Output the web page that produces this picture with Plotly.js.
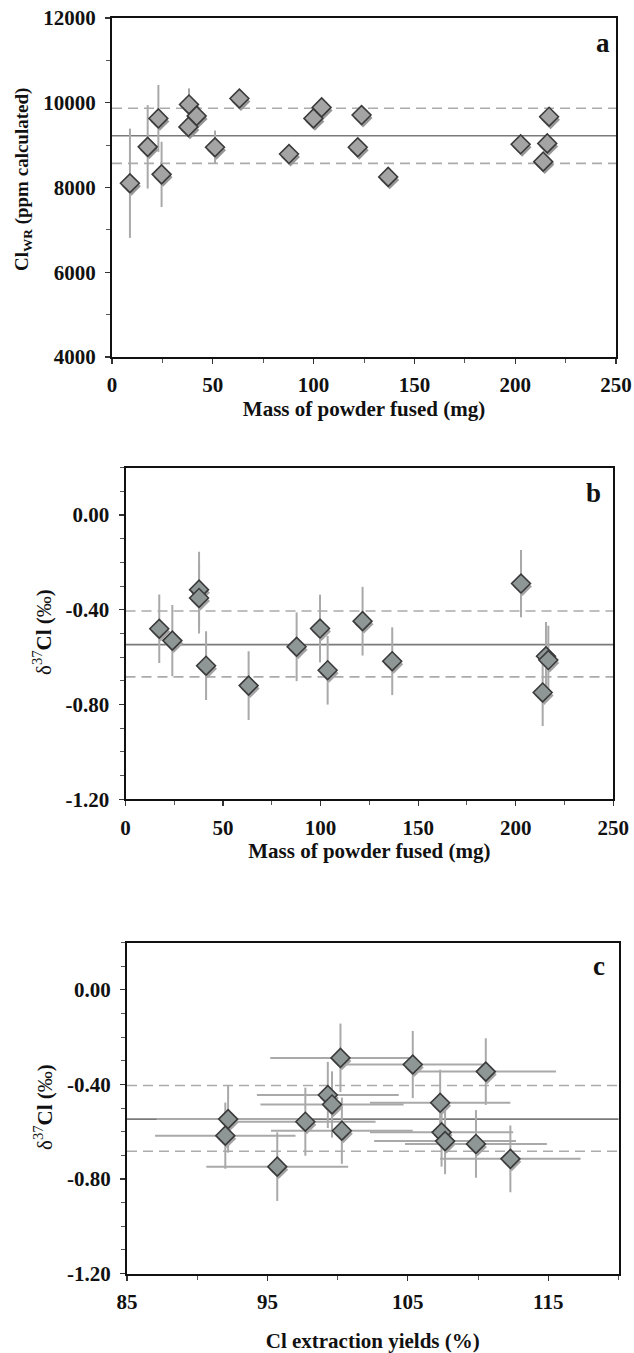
<!DOCTYPE html>
<html><head><meta charset="utf-8">
<script src="https://cdn.plot.ly/plotly-3.0.1.min.js"></script>
<style>html,body{margin:0;padding:0;background:#fff}</style>
</head><body><div id="chart" style="width:634px;height:1353px"></div>
<script>
// ---------- Panel a : Cl_WR vs mass of powder fused ----------
const massA  = [8.9, 17.7, 23.0, 24.6, 38.2, 42.0, 37.9, 51.1, 63.2, 87.8, 99.9, 104.0, 123.8, 121.9, 137.0, 202.7, 216.8, 215.9, 213.9];
const clA    = [8100, 8960, 9630, 8310, 9960, 9690, 9430, 8950, 10100, 8790, 9630, 9890, 9710, 8950, 8250, 9020, 9670, 9040, 8610];
const clErrA = [1290, 985, 790, 770, 380, 200, 200, 395, 200, 200, 200, 200, 200, 200, 200, 200, 200, 200, 200];
const refA   = [9220, 9870, 8570];           // mean, upper, lower
const xTicksA = [0, 50, 100, 150, 200, 250];
const yTicksA = [4000, 6000, 8000, 10000, 12000];
const yTextA  = ["4000", "6000", "8000", "10000", "12000"];

// ---------- Panel b : d37Cl vs mass of powder fused ----------
const massB = [17.3, 24.0, 37.7, 37.7, 41.3, 63.1, 87.7, 99.7, 103.6, 121.5, 136.7, 202.7, 215.5, 216.7, 213.8];
const d37B  = [-0.48, -0.53, -0.315, -0.35, -0.636, -0.72, -0.556, -0.479, -0.655, -0.448, -0.617, -0.289, -0.596, -0.612, -0.749];
const errB  = [0.145, 0.15, 0.16, 0.15, 0.145, 0.145, 0.145, 0.143, 0.145, 0.145, 0.143, 0.142, 0.145, 0.145, 0.142];

// ---------- Panel c : d37Cl vs Cl extraction yield ----------
const yieldC = [92.2, 92.0, 95.7, 97.7, 99.3, 99.6, 100.2, 100.3, 105.35, 107.3, 110.55, 107.4, 107.65, 109.85, 112.3];
const d37C   = [-0.547, -0.617, -0.748, -0.558, -0.445, -0.485, -0.288, -0.596, -0.316, -0.478, -0.346, -0.603, -0.64, -0.652, -0.715];
const xErrC  = [5.1, 5.0, 5.05, 5.0, 5.05, 5.1, 5.0, 5.05, 5.05, 5.0, 5.0, 5.1, 5.05, 5.05, 5.0];
const yErrC  = [0.142, 0.14, 0.145, 0.144, 0.14, 0.14, 0.145, 0.14, 0.142, 0.14, 0.141, 0.145, 0.14, 0.143, 0.141];
const xTicksC = [85, 95, 105, 115];

const refD = [-0.547, -0.405, -0.683];        // mean, upper, lower (b and c)
const yTicksD = [-1.2, -0.8, -0.4, 0.0];
const yTextD  = ["-1.20", "-0.80", "-0.40", "0.00"];

// ---------- layout geometry ----------
const W = 634, H = 1353;
const FONT = "Liberation Serif, Times New Roman, serif";
const panels = [
  {key: "", sh: "4", mk: "7", px: [112, 616],   py: [18, 357],      xr: [0, 250],  yr: [4000, 12000],
   fill: "#a4a4a4", shadow: "#969696", label: "a", lab: [0.974, 0.927], yt: [23, 180]},
  {key: "2", sh: "5", mk: "8", px: [125.5, 613.3], py: [467.7, 799.3], xr: [0, 250],  yr: [-1.2, 0.2],
   fill: "#8e9696", shadow: "#a3a3a3", label: "b", lab: [0.959, 0.925], yt: [43, 632]},
  {key: "3", sh: "6", mk: "9", px: [127, 618.5], py: [942.5, 1273.5], xr: [85, 120], yr: [-1.2, 0.2],
   fill: "#8e9696", shadow: "#a3a3a3", label: "c", lab: [0.961, 0.929], yt: [43, 1107]}
];

function dom(px, len, flip) {
  return flip ? [1 - px[1] / len, 1 - px[0] / len] : [px[0] / len, px[1] / len];
}
function shiftRange(r, pxLen, s) {
  const per = (r[1] - r[0]) / pxLen;
  return [r[0] - s * per, r[1] - s * per];
}

const tickFont = {family: FONT, size: 21, color: "#111", weight: "bold"};
const titleFont = {family: FONT, size: 21, color: "#111", weight: "bold"};

const layout = {
  width: W, height: H, margin: {l: 0, r: 0, t: 0, b: 0},
  paper_bgcolor: "#fff", plot_bgcolor: "#fff", showlegend: false,
  shapes: [], annotations: []
};

const xInfo = [
  {vals: xTicksA, text: xTicksA.map(String), minor: 25, tick0: 0, title: "Mass of powder fused (mg)", standoff: 3},
  {vals: xTicksA, text: xTicksA.map(String), minor: 25, tick0: 0, title: "Mass of powder fused (mg)", standoff: 3},
  {vals: xTicksC, text: xTicksC.map(String), minor: 5, tick0: 85, title: "Cl extraction yields (%)", standoff: 22}
];
const yInfo = [
  {vals: yTicksA, text: yTextA, minor: 1000, tick0: 4000,
   title: "Cl<sub>WR</sub> (ppm calculated)", font: {family: FONT, size: 19, color: "#111", weight: "bold"}},
  {vals: yTicksD, text: yTextD, minor: 0.1, tick0: 0,
   title: "δ<sup>37</sup><b>Cl (</b>‰<b>)</b>", font: {family: FONT, size: 21, color: "#111", weight: "normal"}},
  {vals: yTicksD, text: yTextD, minor: 0.1, tick0: 0,
   title: "δ<sup>37</sup><b>Cl (</b>‰<b>)</b>", font: {family: FONT, size: 21, color: "#111", weight: "normal"}}
];

panels.forEach((p, i) => {
  const xd = dom(p.px, W, false), yd = dom(p.py, H, true);
  const xa = "xaxis" + p.key, ya = "yaxis" + p.key;
  const xid = "x" + p.key, yid = "y" + p.key;
  layout[xa] = {
    domain: xd, anchor: yid, range: p.xr, showgrid: false, zeroline: false,
    showline: true, mirror: true, linecolor: "#111", linewidth: 2,
    ticks: "outside", ticklen: 5, tickwidth: 1.2, tickcolor: "#333",
    tickmode: "array", tickvals: xInfo[i].vals, ticktext: xInfo[i].text,
    minor: {tickmode: "linear", tick0: xInfo[i].tick0, dtick: xInfo[i].minor, ticks: "outside", ticklen: 4, tickwidth: 1, tickcolor: "#555", showgrid: false},
    tickfont: tickFont, ticklabelstandoff: 3,
    title: {text: xInfo[i].title, font: titleFont, standoff: xInfo[i].standoff}
  };
  layout[ya] = {
    domain: yd, anchor: xid, range: p.yr, showgrid: false, zeroline: false,
    showline: true, mirror: true, linecolor: "#111", linewidth: 2,
    ticks: "outside", ticklen: 5, tickwidth: 1.2, tickcolor: "#333",
    tickmode: "array", tickvals: yInfo[i].vals, ticktext: yInfo[i].text,
    minor: {tickmode: "linear", tick0: yInfo[i].tick0, dtick: yInfo[i].minor, ticks: "outside", ticklen: 4, tickwidth: 1, tickcolor: "#555", showgrid: false},
    tickfont: tickFont, ticklabelstandoff: 5
  };
  // y-axis title placed as rotated text at its measured position
  layout.annotations.push({
    xref: "paper", yref: "paper", x: p.yt[0] / W, y: 1 - p.yt[1] / H, xanchor: "center", yanchor: "middle",
    textangle: -90, showarrow: false, text: yInfo[i].title, font: yInfo[i].font
  });
  // shadow axes (shifted by a few pixels right/down)
  const pxW = p.px[1] - p.px[0], pxH = p.py[1] - p.py[0];
  layout["xaxis" + p.sh] = {overlaying: xid, anchor: "y" + p.sh, visible: false, range: shiftRange(p.xr, pxW, 1.5), fixedrange: true};
  layout["yaxis" + p.sh] = {overlaying: yid, anchor: "x" + p.sh, visible: false, range: shiftRange(p.yr, pxH, -3), fixedrange: true};
  // marker axes (same ranges as base)
  layout["xaxis" + p.mk] = {overlaying: xid, anchor: "y" + p.mk, visible: false, range: p.xr, fixedrange: true};
  layout["yaxis" + p.mk] = {overlaying: yid, anchor: "x" + p.mk, visible: false, range: p.yr, fixedrange: true};

  const ref = i === 0 ? refA : refD;
  ref.forEach((v, k) => {
    layout.shapes.push({
      type: "line", xref: xid + " domain", x0: 0, x1: 1, yref: yid, y0: v, y1: v, layer: "below",
      line: k === 0 ? {color: "#7a7a7a", width: 1.6} : {color: "#ababab", width: 1.6, dash: "10px,6px"}
    });
  });
  layout.annotations.push({
    xref: xid + " domain", yref: yid + " domain", x: p.lab[0], y: p.lab[1],
    xanchor: "center", yanchor: "middle", showarrow: false, text: p.label,
    font: {family: FONT, size: 27, color: "#111", weight: "bold"}
  });
});

const errStyle = {color: "#a9a9a9", thickness: 2, width: 0};
function traces(p, xs, ys, ey, ex) {
  const shadow = {
    type: "scatter", mode: "markers", x: xs, y: ys, xaxis: "x" + p.sh, yaxis: "y" + p.sh,
    marker: {symbol: "diamond", size: 14.5, color: p.shadow, line: {width: 0}}, hoverinfo: "skip"
  };
  const main = {
    type: "scatter", mode: "markers", x: xs, y: ys, xaxis: "x" + p.mk, yaxis: "y" + p.mk,
    marker: {symbol: "diamond", size: 14.5, color: p.fill, line: {color: "#3a3a3a", width: 1.6}},
    error_y: Object.assign({type: "data", array: ey, visible: true}, errStyle)
  };
  if (ex) main.error_x = Object.assign({type: "data", array: ex, visible: true}, errStyle);
  return [shadow, main];
}

const data = [].concat(
  traces(panels[0], massA, clA, clErrA),
  traces(panels[1], massB, d37B, errB),
  traces(panels[2], yieldC, d37C, yErrC, xErrC)
);

Plotly.newPlot("chart", data, layout, {staticPlot: true, displayModeBar: false});
</script>
</body></html>
